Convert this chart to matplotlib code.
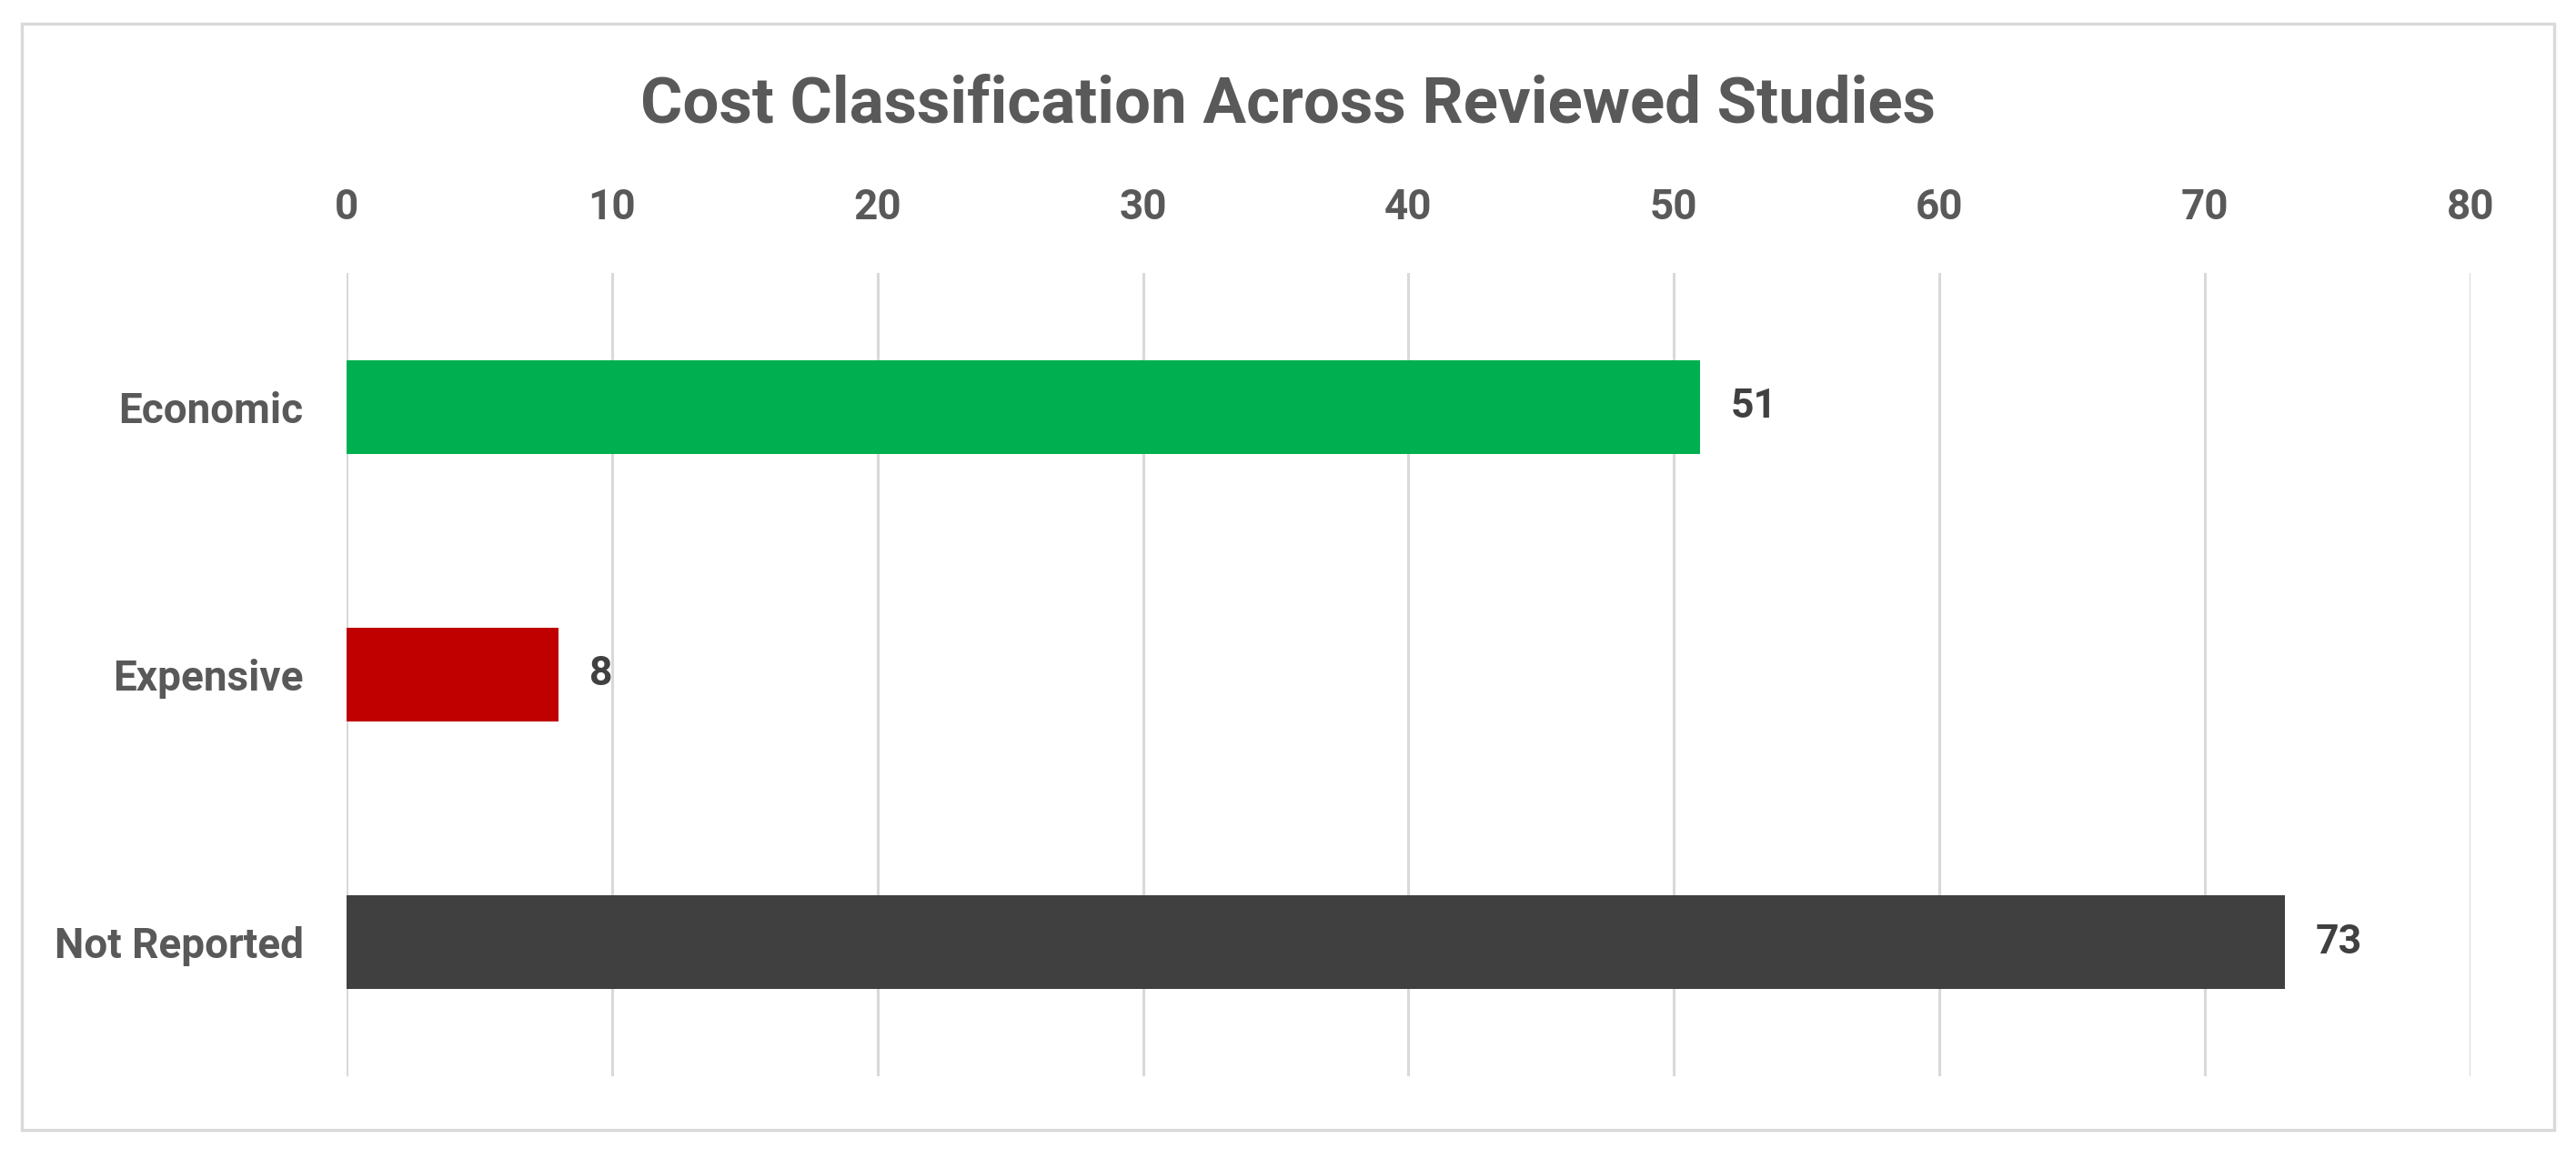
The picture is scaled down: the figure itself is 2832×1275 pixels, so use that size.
import matplotlib
matplotlib.use("Agg")
import matplotlib.pyplot as plt
from matplotlib.patches import Rectangle

# data
categories = ["Economic", "Expensive", "Not Reported"]
counts = [51, 8, 73]
bar_colors = ["#00B050", "#C00000", "#404040"]
x_ticks = [0, 10, 20, 30, 40, 50, 60, 70, 80]

title = "Cost Classification Across Reviewed Studies"

fonts = ["Roboto", "DejaVu Sans"]
text_grey = "#595959"

fig = plt.figure(figsize=(14.16, 6.375), dpi=200)
ax = fig.add_axes([0.1345, 0.0722, 0.8245, 0.6925])

# outer chart border like Excel
fig.patches.append(Rectangle((0.0085, 0.026), 0.983, 0.954, transform=fig.transFigure,
                             fill=False, edgecolor="#D9D9D9", linewidth=1.2))

y_pos = list(range(len(categories)))
ax.barh(y_pos, counts, height=0.35, color=bar_colors, zorder=3)

for y, v in zip(y_pos, counts):
    ax.text(v + 1.15, y, str(v), va="center", ha="left", fontsize=16,
            fontweight="bold", color="#404040", family=fonts)

ax.set_xlim(0, 80)
ax.set_ylim(len(categories) - 0.5, -0.5)
ax.set_xticks(x_ticks)
ax.set_yticks(y_pos)
ax.set_yticklabels(categories)
ax.xaxis.tick_top()
ax.grid(axis="x", color="#D9D9D9", linewidth=1.1, zorder=0)
ax.tick_params(axis="both", length=0, labelcolor=text_grey, labelsize=16.5)
ax.tick_params(axis="x", pad=18)
ax.tick_params(axis="y", pad=17)
for lab in ax.get_xticklabels() + ax.get_yticklabels():
    lab.set_fontweight("bold")
    lab.set_family(fonts)
for s in ax.spines.values():
    s.set_visible(False)

fig.text(0.5, 0.91, title, ha="center", va="center", fontsize=25.5,
         fontweight="bold", color=text_grey, family=fonts)

fig.savefig("out.png", dpi=200, facecolor="white")
